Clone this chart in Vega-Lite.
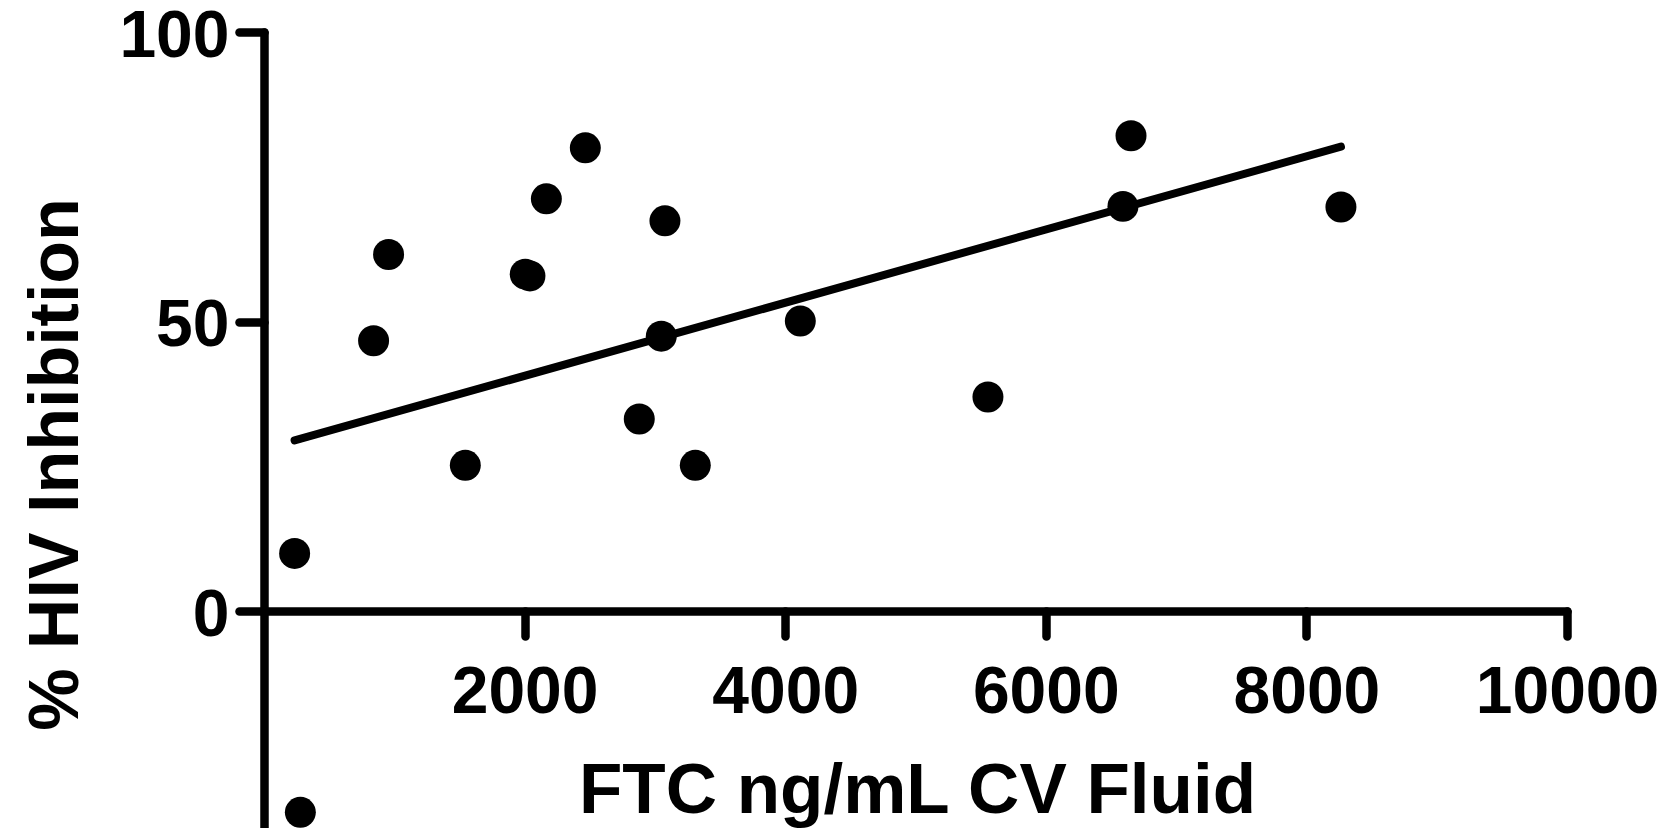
{
  "$schema": "https://vega.github.io/schema/vega-lite/v6.json",
  "width": 1303,
  "height": 796,
  "autosize": "none",
  "padding": {"left": 264, "top": 32, "right": 98, "bottom": 0},
  "background": "white",
  "config": {"view": {"stroke": null}, "font": "Liberation Sans"},
  "datasets": {
    "points": [
      {"ftc": 235, "inhibition": 10.0},
      {"ftc": 279, "inhibition": -34.7},
      {"ftc": 841, "inhibition": 46.7},
      {"ftc": 956, "inhibition": 61.6},
      {"ftc": 1545, "inhibition": 25.2},
      {"ftc": 2005, "inhibition": 58.2},
      {"ftc": 2041, "inhibition": 57.9},
      {"ftc": 2167, "inhibition": 71.2},
      {"ftc": 2466, "inhibition": 80.0},
      {"ftc": 2880, "inhibition": 33.2},
      {"ftc": 3049, "inhibition": 47.5},
      {"ftc": 3077, "inhibition": 67.4},
      {"ftc": 3310, "inhibition": 25.2},
      {"ftc": 4116, "inhibition": 50.1},
      {"ftc": 5556, "inhibition": 37.0},
      {"ftc": 6592, "inhibition": 69.9},
      {"ftc": 6654, "inhibition": 82.1},
      {"ftc": 8265, "inhibition": 69.8}
    ],
    "fit": [
      {"ftc": 235, "inhibition": 29.5},
      {"ftc": 8265, "inhibition": 80.2}
    ]
  },
  "encoding": {
    "x": {
      "field": "ftc",
      "type": "quantitative",
      "scale": {"domain": [0, 10000], "nice": false, "zero": false},
      "axis": {
        "values": [2000, 4000, 6000, 8000, 10000],
        "format": "d",
        "offset": -217,
        "grid": false,
        "domainColor": "black",
        "domainWidth": 8.5,
        "domainCap": "round",
        "tickColor": "black",
        "tickWidth": 8.5,
        "tickSize": 25,
        "tickCap": "round",
        "labelFont": "Liberation Sans",
        "labelFontSize": 66,
        "labelFontWeight": "bold",
        "labelColor": "black",
        "labelBaseline": "alphabetic",
        "labelPadding": 76,
        "labelFlush": false,
        "labelOverlap": false,
        "labelLimit": 0,
        "title": "FTC ng/mL CV Fluid",
        "titleFont": "Liberation Sans",
        "titleFontSize": 71,
        "titleFontWeight": "bold",
        "titleColor": "black",
        "titleBaseline": "alphabetic",
        "titleAlign": "center",
        "titleX": 653,
        "titleY": 201,
        "titleLimit": 0
      }
    },
    "y": {
      "field": "inhibition",
      "type": "quantitative",
      "scale": {"domain": [-37.4, 100], "nice": false, "zero": false},
      "axis": {
        "values": [0, 50, 100],
        "format": "d",
        "grid": false,
        "domainColor": "black",
        "domainWidth": 8.5,
        "domainCap": "round",
        "tickColor": "black",
        "tickWidth": 8.5,
        "tickSize": 25,
        "tickCap": "round",
        "labelFont": "Liberation Sans",
        "labelFontSize": 66,
        "labelFontWeight": "bold",
        "labelColor": "black",
        "labelBaseline": "alphabetic",
        "labelOffset": 24,
        "labelPadding": 10,
        "labelFlush": false,
        "labelOverlap": false,
        "labelLimit": 0,
        "title": "% HIV Inhibition",
        "titleFont": "Liberation Sans",
        "titleFontSize": 70,
        "titleFontWeight": "bold",
        "titleColor": "black",
        "titleAngle": 270,
        "titleBaseline": "alphabetic",
        "titleAlign": "center",
        "titleX": -187,
        "titleY": 432,
        "titleLimit": 0
      }
    }
  },
  "layer": [
    {
      "data": {"name": "fit"},
      "mark": {"type": "line", "color": "black", "strokeWidth": 8, "strokeCap": "round"}
    },
    {
      "data": {"name": "points"},
      "mark": {"type": "circle", "color": "black", "opacity": 1, "size": 960}
    }
  ]
}
